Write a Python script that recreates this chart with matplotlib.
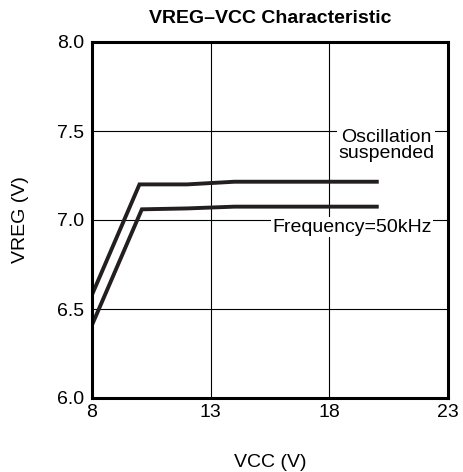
import matplotlib.pyplot as plt

plt.rcParams['font.family'] = ['Liberation Sans', 'DejaVu Sans']

# Data
vcc_osc = [8, 10, 12, 14, 20]
vreg_osc = [6.58, 7.20, 7.20, 7.215, 7.215]
vcc_50k = [8, 10.1, 12, 14, 20]
vreg_50k = [6.41, 7.06, 7.065, 7.075, 7.075]

fig = plt.figure(figsize=(4.63, 4.72), dpi=100)
ax = fig.add_axes([92 / 463, 1 - 398 / 472, 356 / 463, 356 / 472])

ax.plot(vcc_osc, vreg_osc, color='#231f20', lw=2.8, solid_joinstyle='miter')
ax.plot(vcc_50k, vreg_50k, color='#231f20', lw=2.8, solid_joinstyle='miter')

ax.set_xlim(8, 23)
ax.set_ylim(6.0, 8.0)
ax.set_xticks([8, 13, 18, 23])
ax.set_yticks([6.0, 6.5, 7.0, 7.5, 8.0])
ax.set_yticklabels(['6.0', '6.5', '7.0', '7.5', '8.0'])
ax.tick_params(length=0, labelsize=14)
ax.tick_params(axis='x', pad=4)
ax.tick_params(axis='y', pad=5.5)
ax.grid(True, color='black', lw=0.8)
ax.set_axisbelow(True)
for s in ax.spines.values():
    s.set_linewidth(2.2)

ax.text(20.39, 7.42, 'Oscillation\nsuspended', ha='center', va='center', fontsize=14,
        linespacing=0.95, bbox=dict(facecolor='white', edgecolor='none', pad=1))
ax.text(18.96, 6.96, 'Frequency=50kHz', ha='center', va='center', fontsize=14,
        bbox=dict(facecolor='white', edgecolor='none', pad=1))

ax.set_title('VREG\u2013VCC Characteristic', fontsize=14, fontweight='bold', pad=14)
ax.set_xlabel('VCC (V)', fontsize=14, labelpad=24)
ax.set_ylabel('VREG (V)', fontsize=14, labelpad=20)

fig.savefig('out.png', dpi=100)
